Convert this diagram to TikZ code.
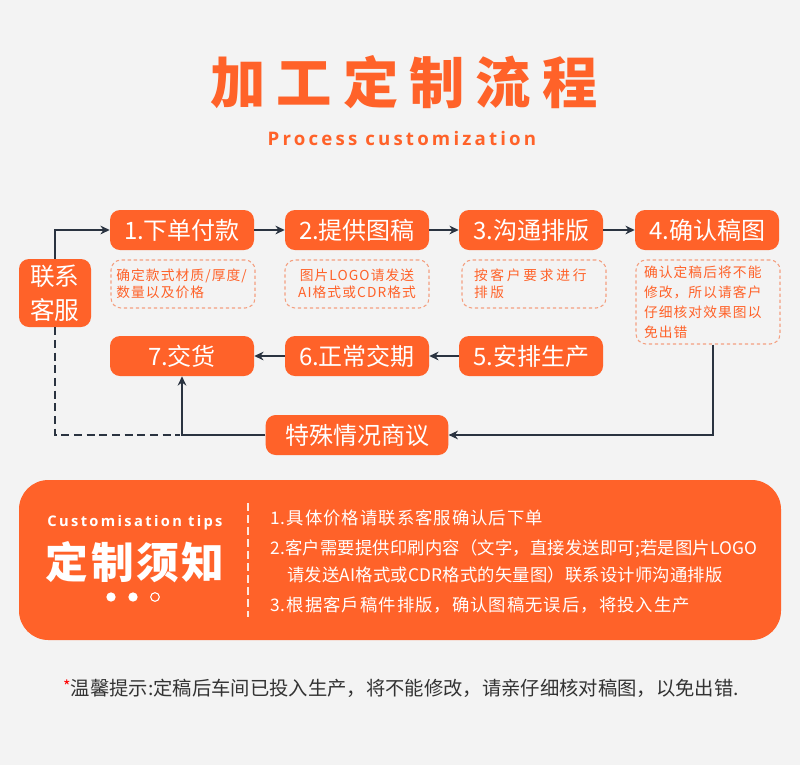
\documentclass[tikz,border=0pt]{standalone}
\usepackage{fontspec}
\setmainfont{Noto Sans CJK SC}
\newfontfamily\latb{Open Sans}
\usetikzlibrary{arrows.meta}
\definecolor{org}{HTML}{FF6229}
\definecolor{bg}{HTML}{F3F3F3}
\definecolor{ln}{HTML}{2A3340}
\definecolor{dashc}{HTML}{F4A080}
\definecolor{foot}{HTML}{333333}
\begin{document}
\begin{tikzpicture}[x=0.75pt,y=-0.75pt,
  stepbox/.style={fill=org, rounded corners=7.5pt, minimum width=108pt, minimum height=30pt, inner sep=0pt, text=white, font=\fontsize{18}{20}\selectfont},
  descbox/.style={draw=dashc, line width=0.8pt, dash pattern=on 2.5pt off 2pt, rounded corners=7.5pt, minimum width=108pt, inner sep=0pt, text=org, font=\fontsize{10.3}{12.5}\selectfont\addfontfeature{LetterSpace=8}},
  conn/.style={draw=ln, line width=1.5pt, -{Stealth[length=7pt,width=6.5pt]}},
  tip/.style={anchor=west, text=white, inner sep=0pt, font=\fontsize{13}{14}\selectfont\addfontfeature{LetterSpace=6}}
]
\fill[bg] (0,0) rectangle (800,765);
% title
\node[text=org, font=\fontsize{41.5}{44}\selectfont\bfseries\addfontfeature{LetterSpace=20}] (title) at (404,82) {加工定制流程};
\node[text=org, font=\latb\fontsize{14}{15}\selectfont\bfseries\addfontfeature{LetterSpace=17}] (sub) at (402,138) {Process customization};
% steps
\node[stepbox] (b1) at (182,230) {1.下单付款};
\node[stepbox] (b2) at (357,230) {2.提供图稿};
\node[stepbox] (b3) at (531,230) {3.沟通排版};
\node[stepbox] (b4) at (707,230) {4.确认稿图};
\node[stepbox] (b7) at (182,356) {7.交货};
\node[stepbox] (b6) at (357,356) {6.正常交期};
\node[stepbox] (b5) at (531,356) {5.安排生产};
% descriptions
\node[descbox, minimum height=36pt, align=left, text width=100pt] (d1) at (183,284) {确定款式材质/厚度/\\数量以及价格};
\node[descbox, minimum height=36pt, align=center] (d2) at (357,284) {图片LOGO请发送\\AI格式或CDR格式};
\node[descbox, minimum height=36pt, align=left, text width=90pt, font=\fontsize{10.3}{12.5}\selectfont\addfontfeature{LetterSpace=20}] (d3) at (534,284) {按客户要求进行\\排版};
\node[descbox, minimum height=63pt, align=left, text width=96pt, font=\fontsize{10.3}{15}\selectfont\addfontfeature{LetterSpace=8}] (d4) at (708,302) {确认定稿后将不能\\修改，所以请客户\\仔细核对效果图以\\免出错};
% contact and special
\node[fill=org, rounded corners=7.5pt, minimum width=54pt, minimum height=51pt, inner sep=0pt, text=white, align=center, font=\fontsize{18.5}{25.5}\selectfont] (cs) at (55,293) {联系\\客服};
\node[stepbox, minimum width=137pt] (sp) at (357,435) {特殊情况商议};
\coordinate (j) at (180,435);
% connectors
\draw[conn] (b1) -- (b2);
\draw[conn] (b2) -- (b3);
\draw[conn] (b3) -- (b4);
\draw[conn] (b5) -- (b6);
\draw[conn] (b6) -- (b7);
\draw[conn] (cs.north) |- (b1.west);
\draw[draw=ln, line width=1.5pt, dash pattern=on 6pt off 3.5pt] (cs.south) |- (j);
\draw[conn] (sp.west) -| (b7.south);
\draw[conn] ([xshift=3.75pt]d4.south) |- (sp.east);
% tips panel
\node[fill=org, rounded corners=22pt, minimum width=571.5pt, minimum height=120pt, inner sep=0pt] (panel) at (400,560) {};
\node[text=white, font=\latb\fontsize{11}{12}\selectfont\bfseries\addfontfeature{LetterSpace=16}] (ct) at (135,523) {Customisation tips};
\node[text=white, font=\fontsize{32}{34}\selectfont\bfseries\addfontfeature{LetterSpace=6}] (dz) at (135,562) {定制须知};
\node[circle, fill=white, minimum size=7pt, inner sep=0pt] (dot1) at (111,597) {};
\node[circle, fill=white, minimum size=7pt, inner sep=0pt] (dot2) at (133,597) {};
\node[circle, draw=white, line width=0.8pt, minimum size=6.5pt, inner sep=0pt] (dot3) at (155,597) {};
\coordinate (vl1) at (248,503);
\coordinate (vl2) at (248,617);
\draw[white!85!org, line width=0.8pt, dash pattern=on 6pt off 3pt] (vl1) -- (vl2);
\node[tip] (t1) at (270,518) {1.具体价格请联系客服确认后下单};
\node[tip, font=\fontsize{13}{14}\selectfont\addfontfeature{LetterSpace=1}] (t2) at (270,549) {2.客户需要提供印刷内容（文字，直接发送即可;若是图片LOGO};
\node[tip, font=\fontsize{13}{14}\selectfont\addfontfeature{LetterSpace=1}] (t2b) at (287,575) {请发送AI格式或CDR格式的矢量图）联系设计师沟通排版};
\node[tip] (t3) at (270,605) {3.根据客戶稿件排版，确认图稿无误后，将投入生产};
% footer
\node[text=foot, font=\fontsize{14.5}{16}\selectfont] (ft) at (401,688) {\textcolor{red}{\raisebox{0.25ex}{\fontsize{12}{12}\selectfont *}}温馨提示:定稿后车间已投入生产，将不能修改，请亲仔细核对稿图，以免出错.};
\end{tikzpicture}
\end{document}
